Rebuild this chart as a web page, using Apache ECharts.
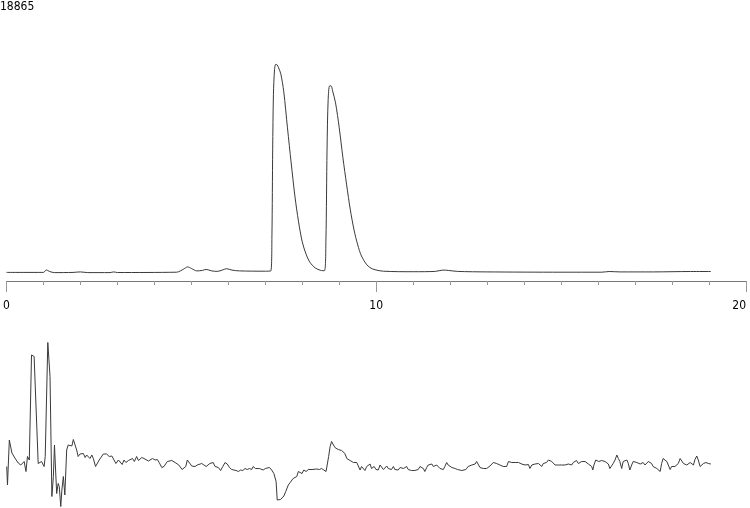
<!DOCTYPE html>
<html>
<head>
<meta charset="utf-8">
<script src="https://cdn.jsdelivr.net/npm/echarts@6/dist/echarts.min.js"></script>
<style>html,body{margin:0;padding:0;background:#fff}#c{width:750px;height:508px}</style>
</head>
<body>
<div id="c"></div>
<script>
// Chromatogram (top trace): retention time (min) and intensity
var topTime = [0.00,1.00,1.08,1.16,1.30,1.80,2.00,2.20,2.80,2.90,3.00,4.60,4.80,4.90,5.00,5.15,5.30,5.40,5.55,5.70,5.85,5.95,6.10,6.30,7.00,7.15,7.18,7.20,7.22,7.25,7.28,7.32,7.36,7.42,7.50,7.60,7.70,7.80,7.90,8.00,8.10,8.20,8.35,8.50,8.60,8.64,8.67,8.70,8.74,8.78,8.82,8.90,9.00,9.10,9.20,9.30,9.40,9.50,9.60,9.75,9.90,10.20,11.00,11.60,11.80,11.95,12.20,13.00,15.00,16.10,16.30,16.60,17.50,18.50,19.05];
var topIntensity = [-36,-36,143,36,-50,-36,0,-50,-50,0,-43,-21,215,358,250,72,107,179,72,36,143,229,129,72,50,72,2645,8723,12656,14443,14836,14800,14586,14157,12870,10296,7794,5434,3575,2145,1287,715,286,107,86,2288,8723,12298,13299,13299,12942,12084,10296,8151,6221,4433,3003,1931,1144,500,215,50,14,36,129,107,36,0,-21,-21,29,0,0,29,29];

// Lower trace (baseline-corrected detector signal)
var bottomTime = [0.02,0.04,0.09,0.13,0.16,0.24,0.33,0.40,0.45,0.49,0.54,0.58,0.63,0.69,0.72,0.76,0.79,0.87,0.92,0.96,1.03,1.06,1.13,1.19,1.24,1.28,1.31,1.34,1.37,1.41,1.44,1.48,1.51,1.55,1.59,1.64,1.68,1.73,1.78,1.82,1.86,1.91,1.95,2.00,2.05,2.09,2.14,2.18,2.22,2.27,2.32,2.36,2.42,2.47,2.52,2.57,2.63,2.68,2.72,2.79,2.86,2.92,2.97,3.04,3.08,3.14,3.19,3.24,3.31,3.35,3.42,3.47,3.53,3.58,3.62,3.67,3.73,3.78,3.85,
3.89,3.96,4.03,4.09,4.14,4.21,4.27,4.32,4.36,4.41,4.48,4.52,4.57,4.61,4.67,4.72,4.76,4.81,4.86,4.90,4.95,5.02,5.06,5.11,5.17,5.22,5.29,5.35,5.41,5.45,5.51,5.56,5.60,5.65,5.69,5.74,5.80,5.86,5.92,5.98,6.04,6.10,6.16,6.22,6.28,6.34,6.40,6.46,6.52,6.58,6.64,6.68,6.74,6.79,6.85,6.90,6.95,7.01,7.06,7.12,7.18,7.24,7.30,7.33,7.38,7.42,7.47,7.51,7.56,7.60,7.63,7.68,7.72,7.76,7.81,7.86,7.90,7.95,
8.00,8.05,8.11,8.17,8.22,8.27,8.32,8.40,8.47,8.53,8.59,8.65,8.68,8.72,8.76,8.80,8.85,8.89,8.94,8.98,9.03,9.07,9.12,9.16,9.21,9.25,9.30,9.34,9.39,9.43,9.48,9.52,9.57,9.61,9.66,9.70,9.75,9.79,9.84,9.88,9.95,10.00,10.06,10.11,10.15,10.20,10.24,10.29,10.33,10.38,10.42,10.47,10.51,10.56,10.60,10.65,10.69,10.74,10.78,10.83,10.87,10.92,10.96,11.01,11.05,11.10,11.14,11.19,11.23,11.28,11.32,11.37,11.41,11.46,11.51,11.55,11.59,11.64,11.68,11.73,11.78,11.82,11.86,11.91,11.95,12.00,
12.05,12.09,12.14,12.20,12.25,12.32,12.36,12.43,12.49,12.54,12.59,12.63,12.68,12.72,12.76,12.81,12.86,12.90,12.95,12.99,13.04,13.08,13.13,13.17,13.22,13.26,13.31,13.35,13.40,13.44,13.49,13.53,13.58,13.62,13.67,13.71,13.76,13.80,13.85,13.89,13.94,13.98,14.03,14.07,14.12,14.16,14.21,14.25,14.30,14.34,14.39,14.43,14.48,14.52,14.57,14.61,14.66,14.70,14.75,14.79,14.84,14.88,14.93,14.97,15.02,15.06,15.11,15.15,15.20,15.24,15.29,15.33,15.38,15.42,15.47,15.51,15.56,15.60,15.65,15.69,15.74,15.78,15.83,15.86,15.89,15.94,15.98,16.02,16.05,
16.10,16.14,16.19,16.24,16.28,16.32,16.37,16.41,16.46,16.51,16.55,16.59,16.64,16.68,16.73,16.78,16.82,16.86,16.91,16.95,17.00,17.05,17.09,17.14,17.18,17.22,17.27,17.32,17.36,17.41,17.45,17.49,17.54,17.59,17.63,17.68,17.72,17.76,17.81,17.86,17.90,17.95,17.99,18.04,18.08,18.13,18.17,18.22,18.26,18.31,18.35,18.40,18.44,18.49,18.53,18.58,18.62,18.67,18.71,18.76,18.80,18.85,18.92,18.98,19.05];
var bottomSignal = [-3,-40,50,47,24,14,4,0,-3,7,-13,17,10,220,223,217,218,3,0,7,-3,17,245,177,-63,-23,40,-10,-57,-37,-43,-83,-50,-23,-60,30,40,43,38,51,47,30,17,22,18,23,15,20,22,13,20,13,-3,0,10,7,22,18,22,17,18,10,3,10,7,1,10,5,9,5,13,7,17,9,7,15,13,9,8,
11,13,10,11,5,-5,-3,-5,7,5,9,11,5,7,0,-3,-9,-7,-3,10,7,-2,0,-3,0,-2,3,0,-3,-7,3,2,5,-3,0,-5,-11,-3,5,2,-5,-9,-10,-11,-13,-10,-11,-7,-9,-7,-9,-3,-7,-9,-7,-5,-10,-7,-9,-5,-10,-17,-33,-70,-73,-69,-67,-62,-53,-51,-40,-35,-31,-27,-29,-23,-13,-9,
-17,-10,-13,-9,-5,-9,-10,-8,-9,-7,-10,-13,-10,17,37,47,40,35,37,31,33,29,31,23,13,11,9,10,5,3,5,2,-10,-3,-7,-11,-3,0,2,-7,-3,-9,-10,0,2,-9,-11,-2,-7,-10,-9,-3,-9,-5,-10,-5,-9,-7,-10,-3,-9,-7,-11,-9,-11,-7,-9,-3,0,-7,-13,-5,0,-2,2,-3,-2,0,-3,-7,-3,-9,-3,5,0,3,
-5,-3,-7,-9,-7,-11,-7,-9,-3,-5,0,-3,2,7,3,-5,-3,-7,-5,-7,-3,-2,2,5,7,3,5,0,3,-3,-2,-3,7,9,5,7,5,7,5,7,2,5,0,3,1,-7,0,-3,2,-2,3,5,-3,3,7,5,10,13,7,3,0,3,0,-2,0,-3,0,-2,2,3,0,5,3,9,3,2,7,11,7,3,2,0,-3,-10,0,10,13,7,3,
9,5,7,3,2,-7,-3,3,10,20,13,7,-7,7,11,10,3,-10,0,7,10,5,7,2,3,5,0,3,7,9,3,-3,0,-7,-9,-13,3,13,10,7,3,-9,-3,0,-3,0,3,13,10,3,7,0,-3,5,9,0,11,18,10,-3,0,3,5,3,2];

// Axis ticks
var xMin = 0, xMax = 20, xMajor = 10;
var headerLabel = '18865';

function zip(a, b) { var out = []; for (var i = 0; i < a.length; i++) out.push([a[i], b[i]]); return out; }

var chart = echarts.init(document.getElementById('c'), null, { renderer: 'canvas' });
var font = '"DejaVu Sans Condensed", "DejaVu Sans", sans-serif';
chart.setOption({
  animation: false,
  backgroundColor: '#ffffff',
  title: { text: headerLabel, left: 0, top: 1, padding: 0,
    textStyle: { fontSize: 12, fontWeight: 'normal', color: '#000', fontFamily: font } },
  grid: [
    { left: 6, right: 4, top: 8, height: 273 },
    { left: 6, right: 4, top: 330, height: 178 }
  ],
  xAxis: [
    { gridIndex: 0, type: 'value', min: xMin, max: xMax, interval: xMajor, position: 'bottom',
      axisLine: { show: true, onZero: false, lineStyle: { color: '#777', width: 1 } },
      axisTick: { show: true, inside: false, length: 11, lineStyle: { color: '#999', width: 1 } },
      minorTick: { show: true, splitNumber: 10, length: 4, lineStyle: { color: '#999', width: 1 } },
      splitLine: { show: false }, minorSplitLine: { show: false },
      axisLabel: { show: true, color: '#000', fontSize: 12, fontFamily: font, margin: 19, alignMaxLabel: 'right' } },
    { gridIndex: 1, type: 'value', min: xMin, max: xMax, show: false }
  ],
  yAxis: [
    { gridIndex: 0, type: 'value', min: -650, max: 18865, show: false },
    { gridIndex: 1, type: 'value', min: -86, max: 270, show: false }
  ],
  series: [
    { type: 'line', xAxisIndex: 0, yAxisIndex: 0, data: zip(topTime, topIntensity),
      showSymbol: false, symbol: 'none', smooth: 0.3,
      lineStyle: { color: '#3a3a3a', width: 1 } },
    { type: 'line', xAxisIndex: 1, yAxisIndex: 1, data: zip(bottomTime, bottomSignal),
      showSymbol: false, symbol: 'none', smooth: false,
      lineStyle: { color: '#3a3a3a', width: 1 } }
  ]
});
</script>
</body>
</html>
